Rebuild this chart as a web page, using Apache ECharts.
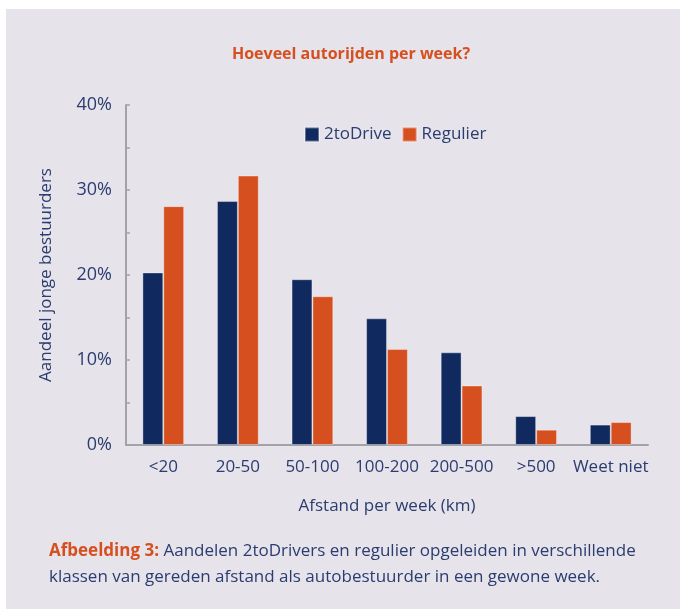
<!DOCTYPE html>
<html lang="nl">
<head>
  <meta charset="UTF-8">
  <title>Hoeveel autorijden per week?</title>
  <script src="https://cdn.jsdelivr.net/npm/echarts@6/dist/echarts.min.js"></script>
  <style>
    body { margin: 0; background: #ffffff; }
    #bg { position: absolute; left: 6px; top: 9px; right: 0; bottom: 0; background: #e6e3ea; }
    #chart { position: absolute; left: 0; top: 0; width: 680px; height: 609px; }
  </style>
</head>
<body>
  <div id="bg"></div>
  <div id="chart"></div>
  <script>
    var categories = ['<20', '20-50', '50-100', '100-200', '200-500', '>500', 'Weet niet']
    var toDrive = [20.3, 28.7, 19.5, 14.9, 10.9, 3.4, 2.4]
    var regulier = [28.1, 31.7, 17.5, 11.3, 7.0, 1.8, 2.7]
    var seriesNames = ['2toDrive', 'Regulier']

    var navy = '#10295e'
    var orange = '#d6501f'
    var textColor = '#2b3c70'
    var axisGrey = '#a3a2a8'
    var font = '"Open Sans", sans-serif'

    var chart = echarts.init(document.getElementById('chart'))
    chart.setOption({
      animation: false,
      textStyle: { fontFamily: font },
      title: [
        {
          text: 'Hoeveel autorijden per week?',
          left: 346,
          textAlign: 'center',
          top: 41,
          textStyle: { color: orange, fontSize: 16, fontWeight: 'bold', fontFamily: font }
        },
        {
          text: '{b|Afbeelding 3:} Aandelen 2toDrivers en regulier opgeleiden in verschillende\nklassen van gereden afstand als autobestuurder in een gewone week.',
          left: 44,
          top: 533,
          textStyle: {
            color: textColor, fontSize: 17, fontWeight: 'normal', fontFamily: font, lineHeight: 26,
            rich: {
              b: { color: orange, fontWeight: 'bold', fontSize: 17, fontFamily: font, lineHeight: 26 }
            }
          }
        }
      ],
      legend: {
        data: seriesNames,
        left: 299,
        top: 121,
        itemWidth: 14,
        itemHeight: 14,
        itemGap: 10,
        icon: 'rect',
        textStyle: { color: textColor, fontSize: 17, fontFamily: font }
      },
      grid: { left: 126, right: 32, top: 105, bottom: 164 },
      xAxis: {
        type: 'category',
        data: categories,
        name: 'Afstand per week (km)',
        nameLocation: 'middle',
        nameGap: 53,
        nameTextStyle: { color: textColor, fontSize: 17 },
        axisLine: { lineStyle: { color: axisGrey, width: 2 } },
        axisTick: { inside: true, length: 5, lineStyle: { color: axisGrey, width: 1.5 } },
        axisLabel: { color: textColor, fontSize: 17, margin: 14, interval: 0 }
      },
      yAxis: {
        type: 'value',
        min: 0,
        max: 40,
        interval: 5,
        name: 'Aandeel jonge bestuurders',
        nameLocation: 'middle',
        nameGap: 71,
        nameTextStyle: { color: textColor, fontSize: 17 },
        splitLine: { show: false },
        axisLine: { show: true, lineStyle: { color: axisGrey, width: 2 } },
        axisTick: { show: true, inside: true, length: 4, lineStyle: { color: axisGrey, width: 1.5 } },
        axisLabel: {
          color: textColor,
          fontSize: 18,
          margin: 14,
          formatter: function (v) { return v % 10 === 0 ? v + '%' : '' }
        }
      },
      series: [
        {
          name: seriesNames[0],
          type: 'bar',
          data: toDrive,
          barGap: '0%',
          barCategoryGap: '44%',
          itemStyle: { color: navy, borderColor: 'rgba(255,255,255,0.35)', borderWidth: 1 }
        },
        {
          name: seriesNames[1],
          type: 'bar',
          data: regulier,
          itemStyle: { color: orange, borderColor: 'rgba(255,255,255,0.35)', borderWidth: 1 }
        }
      ]
    })
  </script>
</body>
</html>
